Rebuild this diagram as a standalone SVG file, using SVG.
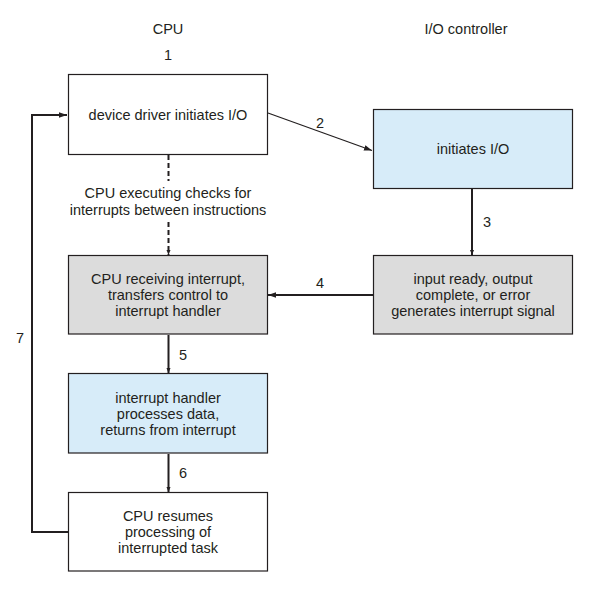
<svg xmlns="http://www.w3.org/2000/svg" width="589" height="592" viewBox="0 0 589 592">
<defs>
<style>
text{font-family:"Liberation Sans",Arial,sans-serif;font-size:14.5px;fill:#231f20;text-anchor:middle}
.box{stroke:#231f20;stroke-width:1.2}
.w{fill:#ffffff}.g{fill:#dcdcdc}.b{fill:#d7ecf9}
.c{stroke:#231f20;stroke-width:2;fill:none}
.thin{stroke:#231f20;stroke-width:1.2;fill:none}
</style>
<marker id="ah" viewBox="0 0 10 10" refX="10" refY="5" markerWidth="5" markerHeight="5" orient="auto" markerUnits="userSpaceOnUse">
<path d="M0,1 L10,5 L0,9 z" fill="#231f20"/>
</marker>
<marker id="ah2" viewBox="0 0 10 10" refX="10" refY="5" markerWidth="8" markerHeight="8" orient="auto" markerUnits="userSpaceOnUse">
<path d="M0,1.5 L10,5 L0,8.5 z" fill="#231f20"/>
</marker>
</defs>
<rect width="589" height="592" fill="#ffffff"/>
<text x="168" y="34">CPU</text>
<text x="168" y="60">1</text>
<text x="466" y="34">I/O controller</text>
<g id="connectors">
<path class="c" d="M68,532 L32,532 L32,115 L67,115" marker-end="url(#ah2)"/>
<line class="thin" x1="268" y1="113" x2="372" y2="150.5" marker-end="url(#ah2)"/>
<line class="c" x1="168.5" y1="155" x2="168.5" y2="181" stroke-dasharray="5,3"/>
<line class="c" x1="168.5" y1="222" x2="168.5" y2="255" stroke-dasharray="5,3" marker-end="url(#ah)"/>
<line class="c" x1="472" y1="189" x2="472" y2="255" marker-end="url(#ah)"/>
<line class="c" x1="373" y1="295" x2="268" y2="295" marker-end="url(#ah2)"/>
<line class="c" x1="168.5" y1="335" x2="168.5" y2="373" marker-end="url(#ah)"/>
<line class="c" x1="168.5" y1="454" x2="168.5" y2="492" marker-end="url(#ah)"/>
<text x="320" y="128">2</text>
<text x="487" y="227">3</text>
<text x="320" y="288">4</text>
<text x="183" y="360">5</text>
<text x="183" y="478">6</text>
<text x="20" y="343">7</text>
<text x="168" y="198">CPU executing checks for</text>
<text x="168" y="215">interrupts between instructions</text>
</g>
<g id="n1">
<rect class="box w" x="68.5" y="74.5" width="199" height="80"/>
<text x="168" y="120">device driver initiates I/O</text>
</g>
<g id="n2">
<rect class="box b" x="373.5" y="109.5" width="199" height="79"/>
<text x="473" y="154">initiates I/O</text>
</g>
<g id="n3">
<rect class="box g" x="373.5" y="255.5" width="199" height="78.5"/>
<text x="473" y="284">input ready, output</text>
<text x="473" y="300">complete, or error</text>
<text x="473" y="316">generates interrupt signal</text>
</g>
<g id="n4">
<rect class="box g" x="68.5" y="255.5" width="199" height="78.5"/>
<text x="168" y="284">CPU receiving interrupt,</text>
<text x="168" y="300">transfers control to</text>
<text x="168" y="316">interrupt handler</text>
</g>
<g id="n5">
<rect class="box b" x="68.5" y="373.5" width="199" height="79.5"/>
<text x="168" y="403">interrupt handler</text>
<text x="168" y="419">processes data,</text>
<text x="168" y="435">returns from interrupt</text>
</g>
<g id="n6">
<rect class="box w" x="68.5" y="492.5" width="199" height="78.5"/>
<text x="168" y="521">CPU resumes</text>
<text x="168" y="537">processing of</text>
<text x="168" y="553">interrupted task</text>
</g>
</svg>
